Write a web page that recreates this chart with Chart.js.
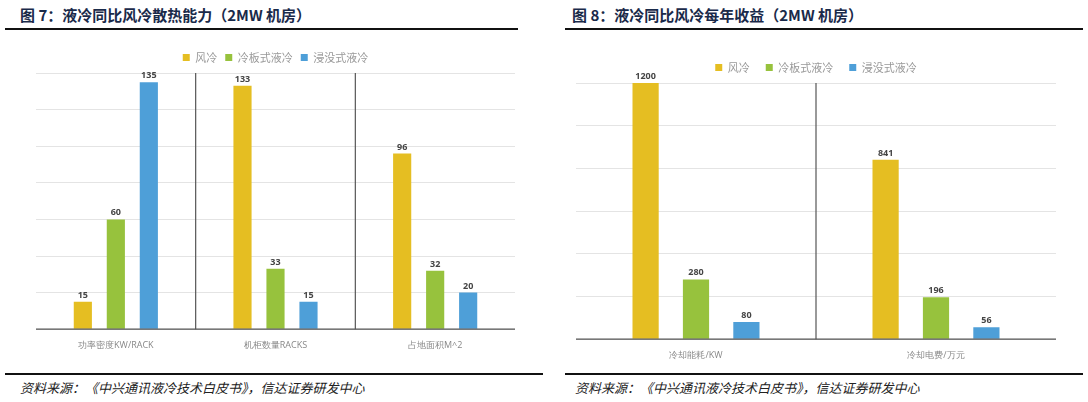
<!DOCTYPE html>
<html><head><meta charset="utf-8">
<script src="https://cdn.jsdelivr.net/npm/chart.js@4"></script>
<style>
body{margin:0;width:1088px;height:402px;background:#fff;position:relative;font-family:"Noto Sans CJK SC",sans-serif;overflow:hidden}
.t{position:absolute;top:4px;font-size:15px;font-weight:bold;color:#1a2a4a}
.ul{position:absolute;top:28px;height:2px;background:#111}
.bl{position:absolute;top:373px;height:2px;background:#111}
.src{position:absolute;top:378px;font-size:13px;font-style:italic;color:#222}
.c{position:absolute;top:38px;height:330px}
</style></head><body>
<div class="t" style="left:20px">图 7：液冷同比风冷散热能力（2MW 机房）</div>
<div class="t" style="left:572px">图 8：液冷同比风冷每年收益（2MW 机房）</div>
<div class="ul" style="left:5px;width:513px"></div>
<div class="ul" style="left:565px;width:518px"></div>
<div class="bl" style="left:5px;width:538px"></div>
<div class="bl" style="left:565px;width:518px"></div>
<div class="src" style="left:20px">资料来源：《中兴通讯液冷技术白皮书》，信达证券研发中心</div>
<div class="src" style="left:575px">资料来源：《中兴通讯液冷技术白皮书》，信达证券研发中心</div>
<div class="c" style="left:0;width:544px"><canvas id="a"></canvas></div>
<div class="c" style="left:544px;width:544px"><canvas id="b"></canvas></div>
<script>
const seriesNames=["风冷","冷板式液冷","浸没式液冷"];
const colors=["#E5BE22","#97C23D","#4E9FD8"];
const cats1=["功率密度KW/RACK","机柜数量RACKS","占地面积M^2"];
const air1=[15,133,96], plate1=[60,33,32], imm1=[135,15,20];
const cats2=["冷却能耗/KW","冷却电费/万元"];
const air2=[1200,841], plate2=[280,196], imm2=[80,56];

const helper={id:'h',afterDatasetsDraw(ch){
  const c=ch.ctx,x=ch.scales.x,a=ch.chartArea;
  c.save();c.strokeStyle='#555';c.lineWidth=1.2;
  for(let i=0;i<ch.data.labels.length-1;i++){
    const px=(x.getPixelForValue(i)+x.getPixelForValue(i+1))/2;
    c.beginPath();c.moveTo(px,a.top);c.lineTo(px,a.bottom);c.stroke();}
  c.strokeStyle='#555';c.beginPath();c.moveTo(a.left,a.bottom);c.lineTo(a.right,a.bottom);c.stroke();
  c.fillStyle='#444';c.font='bold 9px "Open Sans"';c.textAlign='center';c.textBaseline='bottom';
  ch.data.datasets.forEach((d,di)=>ch.getDatasetMeta(di).data.forEach((b,j)=>c.fillText(d.data[j],b.x,b.y-2)));
  c.restore();}};

function make(id,cats,vals,max,step,pad,bp,cp,lp){
  new Chart(document.getElementById(id),{type:'bar',
   data:{labels:cats,datasets:vals.map((v,i)=>({label:seriesNames[i],data:v,backgroundColor:colors[i],barPercentage:bp,categoryPercentage:cp}))},
   options:{responsive:true,maintainAspectRatio:false,animation:false,layout:{padding:pad},
    plugins:{legend:{labels:{boxWidth:7,boxHeight:7,font:{size:11,family:'"Noto Sans CJK SC"'},color:'#999',padding:lp}},tooltip:{enabled:false}},
    scales:{x:{grid:{display:false},border:{display:false},ticks:{color:'#888',font:{size:9,family:'"Open Sans"'}}},
      y:{display:true,min:0,max:max,ticks:{stepSize:step,display:false},border:{display:false},grid:{color:'#e4e4e4',drawTicks:false}}}},
   plugins:[helper]});
}
make('a',cats1,[air1,plate1,imm1],140,20,{left:36,right:29,top:6,bottom:14},0.55,0.62,8);
make('b',cats2,[air2,plate2,imm2],1200,200,{left:32,right:32,top:8,bottom:4},0.52,0.63,16);
</script></body></html>
